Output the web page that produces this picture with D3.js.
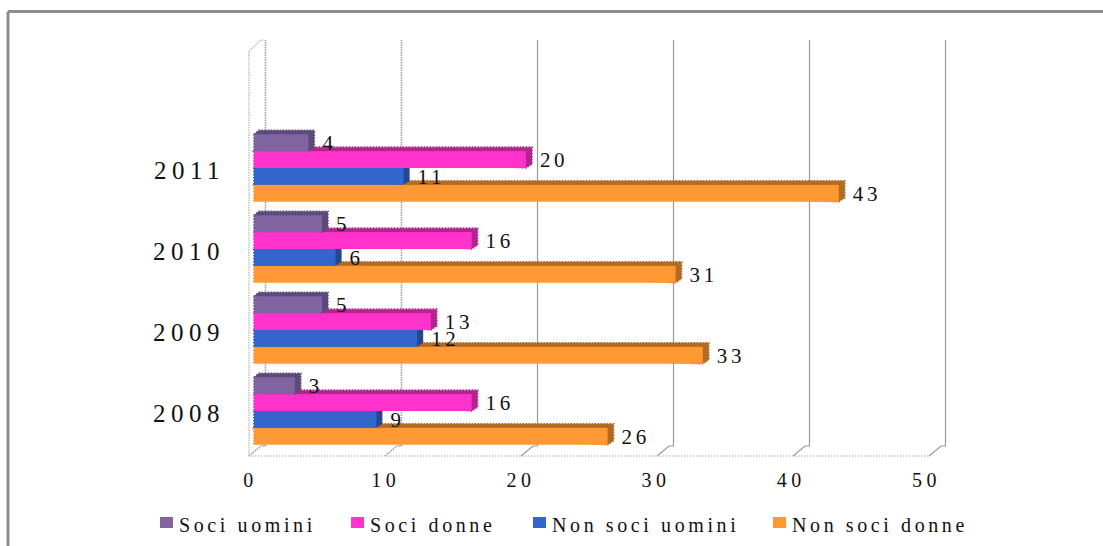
<!DOCTYPE html>
<html lang="en">
<head>
    <meta charset="UTF-8">
    <title>Soci e non soci 2008-2011</title>
    <script src="https://d3js.org/d3.v7.min.js"></script>
    <style>
        body { margin: 0; background: #fff; }
        svg { display: block; }
        text { font-family: "Liberation Serif", serif; fill: #111; }
        .axis path, .axis line { display: none; }
        .axis text { font-family: "Liberation Serif", serif; fill: #111; }
    </style>
</head>
<body>
    <script>
        // Data
        const categories = ["2008", "2009", "2010", "2011"];
        const seriesNames = ["Soci uomini", "Soci donne", "Non soci uomini", "Non soci donne"];
        const sociUomini = [3, 5, 5, 4];
        const sociDonne = [16, 13, 16, 20];
        const nonSociUomini = [9, 12, 6, 11];
        const nonSociDonne = [26, 33, 31, 43];
        const xTicks = [0, 10, 20, 30, 40, 50];

        const seriesValues = [sociUomini, sociDonne, nonSociUomini, nonSociDonne];
        const faceColors = ["#8064a2", "#ff33cc", "#3366cc", "#ff9933"];
        const darkColors = ["#5e4a7a", "#b3248f", "#24478f", "#b36b24"];
        const legendX = [160, 351, 533, 773];

        const width = 1103, height = 546;
        const floorY = 456, topY = 51, depthX = 16, depthY = 10;
        const barDepthX = 6, barDepthY = 4;

        const svg = d3.select("body").append("svg")
            .attr("width", width)
            .attr("height", height);

        // Frame (top and left only, the rest is cropped in the picture)
        [[8, 11.5, width, 11.5], [8, 11.5, 8, height]].forEach(l => {
            svg.append("line").attr("x1", l[0]).attr("y1", l[1]).attr("x2", l[2]).attr("y2", l[3])
                .attr("stroke", "#8c8c8c").attr("stroke-width", 3);
        });

        // Scales: front plane of the floor, and bars that sit slightly behind it
        const xFront = d3.scaleLinear().domain([0, 50]).range([249, 929]);
        const xBar = d3.scaleLinear().domain([0, 50]).range([254, 934]);
        const xLabel = d3.scaleLinear().domain([0, 50]).range([250, 926]);
        const y = d3.scaleBand().domain([...categories, ""]).range([floorY, topY]);
        const yInner = d3.scaleBand().domain(seriesNames).range([0, y.step() * 0.833]);
        const groupOffset = (y.step() - yInner.range()[1]) / 2 - barDepthY - 0.5;

        // Walls and gridlines
        const grid = svg.append("g").attr("fill", "none");
        xTicks.forEach(t => {
            const fx = xFront(t), bx = fx + depthX;
            grid.append("path")
                .attr("d", `M${fx},${floorY}L${fx + depthX - 4},${floorY - depthY}H${bx + 0.5}V${topY - depthY - 1}`)
                .attr("stroke", t < 20 ? "#a0a0a0" : "#9a9a9a")
                .attr("stroke-width", t < 20 ? 1.6 : 1.2)
                .attr("stroke-dasharray", t < 20 ? "1.5,1" : null);
        });
        grid.append("path")
            .attr("d", `M${xFront(0)},${floorY}V${topY}L${xFront(0) + depthX - 4},${topY - depthY - 1}H${xFront(0) + depthX}`)
            .attr("stroke", "#b4b4b4").attr("stroke-dasharray", "1.5,1").attr("stroke-width", 1.2);
        grid.append("line")
            .attr("x1", xFront(0)).attr("x2", xFront(50)).attr("y1", floorY).attr("y2", floorY)
            .attr("stroke", "#a8a8a8").attr("stroke-dasharray", "1.5,1.5");

        // Bars, bottom series first so the upper fronts cover the top faces below
        const ragged = [true, true, false, true];
        const bars = svg.append("g");
        categories.forEach((cat, c) => {
            const groupTop = y(cat) + groupOffset;
            d3.range(seriesNames.length - 1, -1, -1).forEach(s => {
                const name = seriesNames[s];
                const x0 = xBar(0), x1 = xBar(seriesValues[s][c]);
                const y0 = groupTop + yInner(name), y1 = y0 + yInner.bandwidth();
                const shell = `M${x0},${y0}L${x0 + barDepthX - 1},${y0 - barDepthY}H${x1 + barDepthX}V${y1 - barDepthY}L${x1},${y1}Z`;
                bars.append("path").attr("d", shell).attr("fill", darkColors[s])
                    .attr("stroke", ragged[s] ? darkColors[s] : "none")
                    .attr("stroke-width", 1.6)
                    .attr("stroke-dasharray", "1.5,1.5");
                bars.append("rect")
                    .attr("x", x0).attr("y", y0)
                    .attr("width", x1 - x0).attr("height", y1 - y0)
                    .attr("fill", faceColors[s]);
                // ragged left edge of the front face
                bars.append("line")
                    .attr("x1", x0).attr("x2", x0).attr("y1", y0).attr("y2", y1)
                    .attr("stroke", faceColors[s]).attr("stroke-width", 2)
                    .attr("stroke-dasharray", "1.5,1.5");
            });
        });

        // Value labels
        const labels = svg.append("g")
            .attr("font-size", 21).attr("letter-spacing", 3.6);
        categories.forEach((cat, c) => {
            const groupTop = y(cat) + groupOffset;
            seriesNames.forEach((name, s) => {
                labels.append("text")
                    .attr("x", xBar(seriesValues[s][c]) + barDepthX + 8)
                    .attr("y", groupTop + yInner(name) + yInner.bandwidth() / 2 + 7.5)
                    .text(seriesValues[s][c]);
            });
        });

        // Axes
        const xAxis = svg.append("g").attr("class", "axis")
            .attr("transform", `translate(0,${floorY})`)
            .call(d3.axisBottom(xLabel).tickValues(xTicks).tickSize(0).tickFormat(d3.format("d")));
        xAxis.selectAll("text")
            .attr("y", 31).attr("dy", 0)
            .style("font-size", "20px").style("letter-spacing", "4.5px");

        const yAxis = svg.append("g").attr("class", "axis")
            .attr("transform", `translate(${xFront(0)},-1.5)`)
            .call(d3.axisLeft(y).tickSize(0).tickPadding(24));
        yAxis.selectAll("text")
            .style("font-size", "25px").style("letter-spacing", "5.5px");

        // Legend
        const legend = svg.append("g");
        seriesNames.forEach((name, s) => {
            legend.append("rect")
                .attr("x", legendX[s]).attr("y", 517)
                .attr("width", 13).attr("height", 11)
                .attr("fill", faceColors[s]);
            legend.append("text")
                .attr("x", legendX[s] + 19).attr("y", 532)
                .attr("font-size", 20).attr("letter-spacing", 3.6)
                .text(name);
        });
    </script>
</body>
</html>
